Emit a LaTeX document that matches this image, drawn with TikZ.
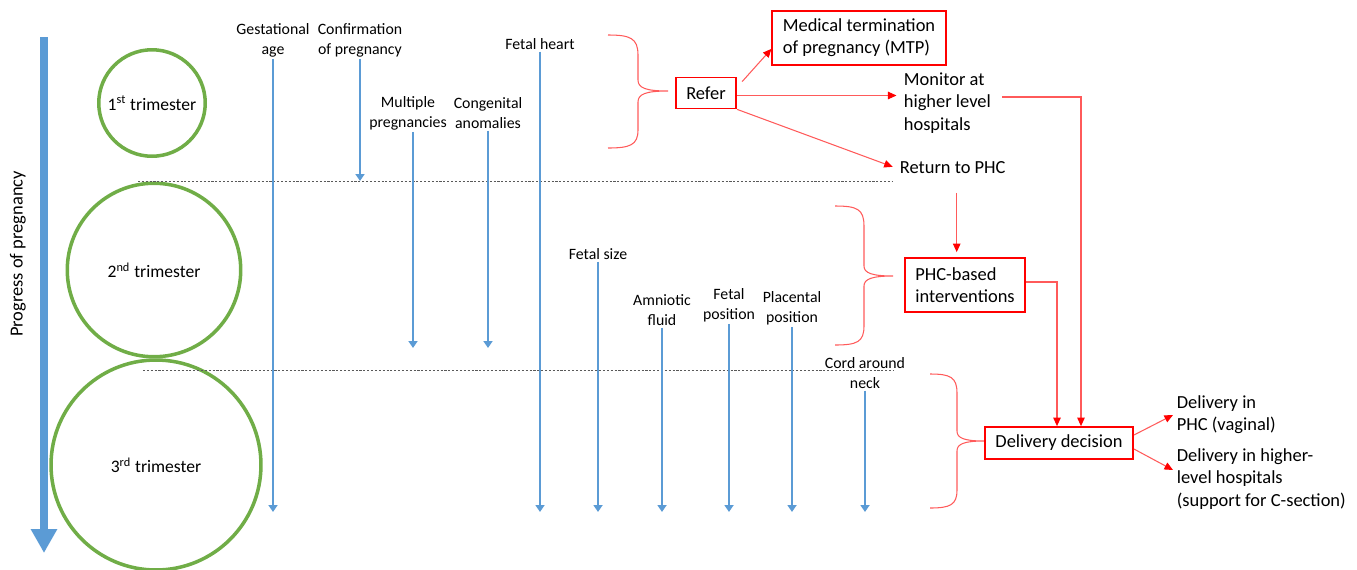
\documentclass[tikz,border=0pt]{standalone}
\usepackage{fontspec}
\setmainfont{Carlito}
\usepackage{tikz}
\usetikzlibrary{arrows.meta,positioning,calc}
\definecolor{blu}{HTML}{5B9BD5}
\definecolor{grn}{HTML}{70AD47}
\definecolor{lred}{HTML}{FF5A5A}
\tikzset{
  trim/.style={circle,draw=grn,line width=2pt,inner sep=0pt,font=\fontsize{10}{12}\selectfont},
  lbl/.style={align=center,inner sep=1pt,font=\fontsize{9}{11.3}\selectfont},
  redbox/.style={draw=red,line width=1pt,align=left,inner xsep=0.21cm,inner ysep=3pt,
                 font=\fontsize{10.5}{12.6}\selectfont},
  plain/.style={align=left,inner sep=2pt,font=\fontsize{10.5}{12.6}\selectfont},
  barrow/.style={draw=blu,line width=1.1pt,-{Triangle[width=0.18cm,length=0.14cm]}},
  bigarrow/.style={draw=blu,line width=0.16cm,-{Triangle[width=0.5cm,length=0.48cm]}},
  rarrow/.style={draw=lred,line width=0.6pt,-{Triangle[width=0.15cm,length=0.17cm,color=red]}},
  sep/.style={draw=gray!70!black,line width=0.5pt,dash pattern=on 1.2pt off 1pt},
  brc/.style={draw=lred,line width=0.6pt},
}

\begin{document}
\begin{tikzpicture}[x=0.02cm,y=-0.02cm]
  \useasboundingbox (0,0) rectangle (1357,569);
  % progress arrow
  \coordinate (ptop) at (44,37);
  \coordinate (pbot) at (44,553);
  \draw[bigarrow] (ptop) -- (pbot);
  \node[rotate=90,font=\fontsize{10.5}{12}\selectfont] (prog) at (18,254) {Progress of pregnancy};
  % trimesters
  \node[trim,minimum size=2.13cm] (t1) at (152,103) {1\textsuperscript{st} trimester};
  \node[trim,minimum size=3.47cm] (t2) at (154,270) {2\textsuperscript{nd} trimester};
  \node[trim,minimum size=4.2cm] (t3) at (156,465) {3\textsuperscript{rd} trimester};
  % separators
  \coordinate (s1) at (138,181);
  \coordinate (s2) at (143,370);
  \draw[sep] (s1) -- (892,181);
  \draw[sep] (s2) -- (893,370);
  % checks
  \coordinate (mid) at (0,348);
  \coordinate (bot) at (0,512);
  \node[lbl] (ga) at (273,40) {Gestational\\age};
  \node[lbl] (conf) at (360,40) {Confirmation\\of pregnancy};
  \node[lbl] (mult) at (408,113) {Multiple\\pregnancies};
  \node[lbl] (cong) at (488,113) {Congenital\\anomalies};
  \node[lbl] (fh) at (540,44) {Fetal heart};
  \node[lbl] (fs) at (598,254) {Fetal size};
  \node[lbl] (af) at (662,310) {Amniotic\\fluid};
  \node[lbl] (fp) at (729,305) {Fetal\\position};
  \node[lbl] (pp) at (792,308) {Placental\\position};
  \node[lbl] (cord) at (865,373) {Cord around\\neck};
  \foreach \n in {ga,fh,fs,af,fp,pp,cord} \draw[barrow] (\n.south) -- (\n.south |- bot);
  \draw[barrow] (conf.south) -- (conf.south |- s1);
  \draw[barrow] ([xshift=0.1cm]mult.south) -- ([xshift=0.1cm]mult.south |- mid);
  \draw[barrow] (cong.south) -- (cong.south |- mid);
  % braces
  \draw[brc] (608,35) .. controls (630,35) and (638,38) .. (638,55) -- (638,80)
    .. controls (638,88) and (646,91) .. (668,91) .. controls (646,91) and (638,94) .. (638,102)
    -- (638,130) .. controls (638,145) and (630,148) .. (608,148);
  \draw[brc] (835,206) .. controls (857,206) and (864,209) .. (864,226) -- (864,266)
    .. controls (864,273) and (872,276) .. (893,276) .. controls (872,276) and (864,279) .. (864,286)
    -- (864,326) .. controls (864,342) and (857,345) .. (835,345);
  \draw[brc] (930,374) .. controls (950,374) and (957,377) .. (957,393) -- (957,431)
    .. controls (957,438) and (964,441) .. (984,441) .. controls (964,441) and (957,444) .. (957,451)
    -- (957,490) .. controls (957,505) and (950,508) .. (930,508);
  % decisions
  \node[redbox,minimum height=0.62cm] (refer) at (706,93) {Refer};
  \node[redbox,minimum height=1.08cm] (mtp) at (859,38) {Medical termination\\of pregnancy (MTP)};
  \node[plain,anchor=west] (mon) at (900,103) {Monitor at\\higher level\\hospitals};
  \node[plain,anchor=west] (ret) at (896,168) {Return to PHC};
  \node[redbox,minimum height=1.08cm] (phc) at (965,285) {PHC-based\\interventions};
  \node[redbox,minimum height=0.64cm] (dd) at (1059,443) {Delivery decision};
  \node[plain,anchor=west] (dphc) at (1173,415) {Delivery in\\PHC (vaginal)};
  \node[plain,anchor=west] (dhigh) at (1173,479) {Delivery in higher-\\level hospitals\\(support for C-section)};
  \draw[rarrow] ($(refer.north east)+(5,5)$) -- ($(mtp.south west)+(0,-17)$);
  \draw[rarrow,shorten >=2pt] ([yshift=-0.05cm]refer.east) -- ([yshift=-0.05cm]refer.east -| mon.west);
  \draw[rarrow,shorten >=2pt] (refer.south east) -- (ret.west);
  \draw[rarrow,shorten >=0.1cm] ([xshift=0.08cm,yshift=-0.3cm]ret.south) -- ([xshift=0.08cm]ret.south |- phc.north);
  \draw[rarrow] ([shift={(0.15cm,0.12cm)}]mon.east) -| ([xshift=0.44cm]dd.north);
  \draw[rarrow] ([yshift=0.06cm]phc.east) -| ([xshift=-0.04cm]dd.north);
  \draw[rarrow] ([yshift=0.16cm]dd.east) -- (dphc.west);
  \draw[rarrow] ([yshift=-0.12cm]dd.east) -- ([yshift=0.18cm]dhigh.west);
\end{tikzpicture}
\end{document}
